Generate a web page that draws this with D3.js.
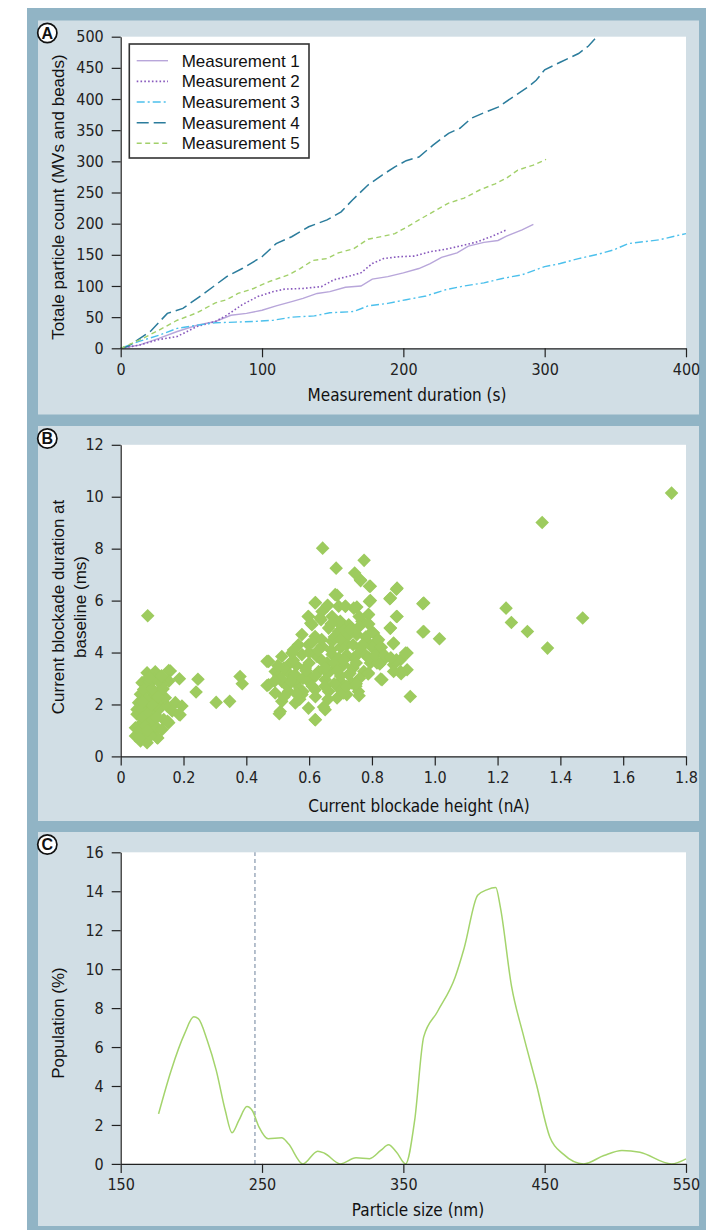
<!DOCTYPE html>
<html>
<head>
<meta charset="utf-8">
<script src="https://cdn.jsdelivr.net/npm/d3@7"></script>
<style>
  html, body { margin: 0; padding: 0; background: #ffffff; }
  svg { display: block; }
  .tick text { font-family: "DejaVu Sans Condensed", "DejaVu Sans", sans-serif; font-stretch: condensed; font-size: 16px; fill: #222; }
  .axis path, .axis line { stroke: #222; stroke-width: 1.2; }
  .xtitle { font-family: "DejaVu Sans Condensed", "DejaVu Sans", sans-serif; font-stretch: condensed; font-size: 17px; fill: #111; }
  .ytitle { font-family: "Liberation Sans", Arial, sans-serif; font-size: 17px; fill: #111; }
  .legend text { font-family: "Liberation Sans", Arial, sans-serif; font-size: 17px; fill: #111; }
  .tag text { font-family: "Liberation Sans", Arial, sans-serif; font-weight: bold; font-size: 16px; fill: #111; }
</style>
</head>
<body>
<svg id="fig" width="706" height="1230"></svg>
<script>
// ---- Panel A: cumulative particle counts, [time (s), count] ----
const seriesNames = ["Measurement 1", "Measurement 2", "Measurement 3", "Measurement 4", "Measurement 5"];
const measurement1 = [[0,0],[13,5],[27,16],[40,27],[54,37],[67,43],[78,53],[89,56],[100,61],[110,68],[121,75],[129,80],[139,88],[148,91],[159,98],[170,100],[178,111],[189,115],[200,121],[211,128],[219,136],[227,146],[238,153],[246,164],[257,170],[267,173],[273,180],[284,190],[292,199]];
const measurement2 = [[0,0],[13,5],[27,14],[40,19],[54,35],[67,43],[75,53],[86,70],[97,83],[108,91],[116,95],[129,96],[142,99],[151,110],[162,116],[170,121],[178,136],[186,144],[197,147],[208,148],[219,155],[230,159],[240,164],[251,170],[262,179],[273,190]];
const measurement3 = [[0,0],[13,11],[27,21],[40,32],[54,37],[67,41],[81,42],[94,43],[108,45],[121,50],[137,52],[148,57],[165,59],[175,68],[189,72],[202,78],[216,84],[230,94],[243,100],[257,105],[270,112],[284,118],[300,131],[311,136],[324,144],[338,151],[349,158],[359,168],[370,171],[381,174],[392,180],[400,184]];
const measurement4 = [[0,0],[5,3],[21,27],[33,56],[44,64],[59,88],[75,115],[86,128],[100,147],[110,168],[121,179],[133,195],[146,206],[156,219],[164,238],[175,262],[185,278],[194,291],[202,301],[211,307],[221,326],[232,345],[240,353],[248,369],[257,378],[267,387],[278,404],[288,419],[294,430],[300,447],[311,459],[324,473],[331,485],[337,500]];
const measurement5 = [[0,0],[13,13],[27,29],[40,45],[54,57],[67,73],[75,78],[83,88],[94,96],[105,107],[119,118],[127,128],[136,141],[146,144],[154,153],[165,160],[175,175],[186,180],[194,184],[202,194],[211,206],[221,219],[232,233],[243,241],[254,254],[265,264],[273,273],[281,286],[292,294],[301,303]];
const durationTicks = [0, 100, 200, 300, 400];
const countTicks = [0, 50, 100, 150, 200, 250, 300, 350, 400, 450, 500];

// ---- Panel B: blockade events, [height (nA), duration (ms)] ----
const blockadeEvents = [
  [0.086,5.42],
  [0.084,3.22],[0.110,3.26],[0.158,3.29],[0.153,3.31],[0.187,2.99],[0.246,2.97],[0.240,2.48],[0.153,2.90],[0.132,2.77],
  [0.068,2.84],[0.089,2.58],[0.121,2.52],[0.063,2.39],[0.100,2.26],[0.057,2.07],[0.084,1.94],[0.126,2.13],[0.148,1.94],
  [0.174,2.07],[0.195,1.94],[0.185,1.62],[0.189,1.60],[0.164,1.75],[0.153,1.30],[0.149,1.35],[0.137,1.42],[0.110,1.62],
  [0.078,1.62],[0.052,1.62],[0.068,1.30],[0.094,1.23],[0.047,1.10],[0.073,0.98],[0.105,0.98],[0.047,0.79],[0.063,0.59],
  [0.084,0.53],[0.116,0.72],[0.118,0.71],[0.078,0.79],[0.110,1.17],[0.132,1.04],[0.121,1.81],[0.142,2.26],[0.105,2.97],
  [0.089,2.84],[0.073,2.58],[0.052,1.81],[0.068,1.81],[0.089,1.42],[0.105,1.94],[0.110,2.32],
  [0.060,1.00],[0.070,1.50],[0.080,1.20],[0.090,1.70],[0.100,2.00],[0.080,2.20],[0.100,2.60],[0.120,2.90],[0.095,0.80],
  [0.060,0.70],[0.100,1.40],[0.120,2.30],[0.135,2.60],[0.070,2.10],[0.115,1.50],[0.090,3.05],[0.130,3.10],[0.085,1.00],
  [0.304,2.08],[0.347,2.12],[0.380,3.08],[0.387,2.80],
  [0.683,6.23],[0.619,5.91],[0.657,5.78],[0.694,5.78],[0.598,5.39],[0.635,5.33],[0.699,5.20],[0.662,4.94],[0.577,4.69],
  [0.619,4.62],[0.673,4.43],[0.598,4.30],[0.641,4.24],[0.705,4.24],[0.577,3.92],[0.625,3.85],[0.673,3.92],[0.471,3.66],
  [0.513,3.85],[0.540,3.60],[0.492,3.27],[0.534,3.21],[0.588,3.40],[0.630,3.27],[0.683,3.40],[0.471,2.76],[0.513,2.89],
  [0.556,2.83],[0.598,2.89],[0.651,2.95],[0.699,2.89],[0.492,2.44],[0.534,2.50],[0.577,2.38],[0.619,2.57],[0.662,2.50],
  [0.513,2.12],[0.556,2.06],[0.598,1.86],[0.508,1.73],[0.619,1.41],[0.651,1.80],[0.689,2.25],[0.545,3.98],[0.566,4.30],
  [0.609,5.07],[0.641,5.58],[0.673,5.39],[0.694,4.81],[0.503,3.10],[0.555,3.15],[0.600,3.10],[0.657,3.60],[0.694,3.79],
  [0.763,6.80],[0.795,6.55],[0.880,6.48],[0.859,6.10],[0.965,5.91],[0.795,6.00],[0.742,5.71],[0.715,5.78],[0.789,5.46],
  [0.768,5.20],[0.880,5.39],[0.859,4.94],[0.965,4.81],[0.726,5.07],[0.710,4.88],[0.805,4.75],[0.752,4.69],[0.784,4.43],
  [0.816,4.43],[0.869,4.37],[0.720,4.30],[0.763,4.17],[0.816,4.04],[0.912,3.98],[0.891,3.72],[0.869,3.53],[0.832,3.66],
  [0.795,3.60],[0.742,3.79],[0.710,3.53],[0.774,3.27],[0.891,3.27],[0.816,3.60],[0.726,3.15],[0.789,3.21],[0.869,3.27],
  [0.912,3.34],[0.832,2.95],[0.736,2.83],[0.757,2.50],[0.699,2.57],[0.720,2.38],[0.922,2.31],
  [1.754,10.14],[1.342,9.01],[1.227,5.71],[1.244,5.16],[1.295,4.81],[1.359,4.17],[1.471,5.33],[1.015,4.53],[0.962,5.88],
  [0.962,4.79],[0.643,8.02],[0.775,7.55],[0.686,7.25],[0.745,7.06],[0.764,6.77],[0.792,6.55],[0.878,6.44],[0.689,6.20],
  [0.857,6.07],[0.792,5.97],[0.620,5.93],[0.659,5.82],[0.716,5.78],[0.752,5.75],
  [0.466,3.66],[0.466,2.73],[0.505,1.64],[0.620,1.41],[0.646,1.90],[0.788,3.17],[0.749,2.70],[0.759,2.34],[0.710,2.44],
  [0.828,2.98],[0.821,4.49],[0.825,3.56],[0.878,3.72],[0.893,3.18],[0.907,3.98],[0.868,4.34],[0.878,5.39],[0.858,4.94],
  [0.789,5.46],[0.759,5.39],[0.692,5.16],[0.638,5.26],[0.605,5.13],[0.597,5.39],
  [0.52,3.40],[0.56,3.50],[0.60,3.60],[0.64,3.70],[0.68,3.60],[0.72,3.90],[0.76,4.00],[0.53,2.70],[0.57,2.60],[0.61,2.70],
  [0.65,2.70],[0.70,3.10],[0.74,3.40],[0.78,3.90],[0.80,4.20],[0.83,4.20],[0.60,4.00],[0.64,4.50],[0.68,4.60],[0.72,4.60],
  [0.58,3.00],[0.62,3.10],[0.50,3.50],[0.52,2.30],[0.57,2.20],[0.66,2.20],[0.55,4.10],[0.61,4.40],[0.67,4.10],[0.75,3.60],
  [0.78,4.60],[0.80,4.80],[0.70,4.20],[0.73,3.20],[0.76,3.00],
  [0.54,2.90],[0.58,2.50],[0.62,2.30],[0.66,3.20],[0.69,3.30],[0.71,3.70],[0.74,4.30],[0.77,4.30],[0.79,3.80],[0.81,3.90],
  [0.84,3.90],[0.86,3.80],[0.63,4.10],[0.59,3.30],[0.55,3.70],[0.51,3.00],[0.49,2.90],[0.56,2.40],[0.65,3.40],[0.68,2.80],
  [0.72,2.70],[0.75,2.80],[0.70,4.50],[0.73,4.90],[0.76,5.00],[0.67,5.10],[0.79,5.10]
];
const heightTicks = [0, 0.2, 0.4, 0.6, 0.8, 1.0, 1.2, 1.4, 1.6, 1.8];
const blockDurTicks = [0, 2, 4, 6, 8, 10, 12];

// ---- Panel C: size distribution ----
const particleSize = [176.8,185.7,195.3,201.7,204.9,211.2,217.6,224,228.8,233.6,239.3,243.1,247.9,254.3,263.9,268.7,278.9,289.4,294.2,305.3,316.5,326.1,334,339.5,345.2,351.6,358,364.4,374,386.7,393.1,402.6,409,415.4,418.6,426.6,434.6,444.1,453.7,463.2,477.6,491.9,504.7,517.4,539.8,550];
const population = [2.57,4.8,6.7,7.55,7.46,6.35,4.8,2.74,1.6,2.23,2.95,2.74,1.89,1.29,1.34,1.03,0,0.65,0.55,0,0.31,0.27,0.69,0.98,0.6,0,2.23,6.52,7.8,9.6,11.1,13.8,14.07,14.19,13.2,9.1,6.7,4.1,1.37,0.5,0,0.43,0.69,0.6,0,0.26];
const sizeCutoff = 245;
const sizeTicks = [150, 250, 350, 450, 550];
const populationTicks = [0, 2, 4, 6, 8, 10, 12, 14, 16];

// ---- layout ----
const svg = d3.select("#fig");
const frameColor = "#91b4c5", panelColor = "#d1dee5";
const plotLeft = 120.7, plotRight = 686, plotH = 311.6;
const panels = [
  { top: 20.5, bottom: 414.5, plotTop: 36.7, tag: "A" },
  { top: 426, bottom: 821, plotTop: 444.8, tag: "B" },
  { top: 832, bottom: 1226, plotTop: 852.3, tag: "C" }
];

svg.append("rect").attr("x", 27).attr("y", 8).attr("width", 679).attr("height", 1222).attr("fill", frameColor);
panels.forEach(p => {
  svg.append("rect").attr("x", 38).attr("y", p.top).attr("width", 661).attr("height", p.bottom - p.top).attr("fill", panelColor);
  svg.append("rect").attr("x", plotLeft).attr("y", p.plotTop).attr("width", plotRight - plotLeft).attr("height", plotH).attr("fill", "#ffffff");
  const tg = svg.append("g").attr("class", "tag").attr("transform", `translate(47.3,${p.top + 12.5})`);
  tg.append("circle").attr("r", 9.6).attr("fill", "#ffffff").attr("stroke", "#111").attr("stroke-width", 1.7);
  tg.append("text").attr("text-anchor", "middle").attr("dy", "0.36em").text(p.tag);
});

function axes(p, x, y, xTicks, yTicks, xFmt, yFmt) {
  const bottom = p.plotTop + plotH;
  svg.append("g").attr("class", "axis").attr("transform", `translate(0,${bottom})`)
    .call(d3.axisBottom(x).tickValues(xTicks).tickFormat(xFmt).tickSize(9).tickSizeOuter(0).tickPadding(6));
  svg.append("g").attr("class", "axis").attr("transform", `translate(${plotLeft},0)`)
    .call(d3.axisLeft(y).tickValues(yTicks).tickFormat(yFmt).tickSize(9).tickSizeOuter(0).tickPadding(8));
}
function xTitle(text, cx, baseline) {
  svg.append("text").attr("class", "xtitle").attr("x", cx).attr("y", baseline).attr("text-anchor", "middle").text(text);
}
function yTitle(lines, cxs, cy) {
  lines.forEach((t, i) => {
    svg.append("text").attr("class", "ytitle").attr("text-anchor", "middle").attr("dy", "0.35em")
      .attr("transform", `translate(${cxs[i]},${cy}) rotate(-90)`).text(t);
  });
}

// ---- Panel A ----
{
  const p = panels[0];
  const x = d3.scaleLinear().domain([0, 400]).range([plotLeft, plotRight]);
  const y = d3.scaleLinear().domain([0, 500]).range([p.plotTop + plotH, p.plotTop]);
  const styles = [
    { color: "#b8a6da", dash: null, width: 1.4 },
    { color: "#8859bd", dash: "1.6,2.2", width: 1.6 },
    { color: "#4cc0ec", dash: "8,3,2,3", width: 1.4 },
    { color: "#2b7c9c", dash: "12,5", width: 1.5 },
    { color: "#a2d06a", dash: "5,3.5", width: 1.4 }
  ];
  const data = [measurement1, measurement2, measurement3, measurement4, measurement5];
  const line = d3.line().x(d => x(d[0])).y(d => y(d[1]));
  data.forEach((d, i) => {
    svg.append("path").datum(d).attr("d", line).attr("fill", "none")
      .attr("stroke", styles[i].color).attr("stroke-width", styles[i].width)
      .attr("stroke-dasharray", styles[i].dash);
  });
  axes(p, x, y, durationTicks, countTicks, d3.format("d"), d3.format("d"));
  xTitle("Measurement duration (s)", 407, 401);
  yTitle(["Totale particle count (MVs and beads)"], [57.6], 197);

  // legend
  const lg = svg.append("g").attr("class", "legend");
  lg.append("rect").attr("x", 129.3).attr("y", 44).attr("width", 179.7).attr("height", 114)
    .attr("fill", "#ffffff").attr("stroke", "#333").attr("stroke-width", 1.6);
  seriesNames.forEach((name, i) => {
    const yy = 60.7 + i * 20.65;
    lg.append("line").attr("x1", 136.7).attr("x2", 168).attr("y1", yy).attr("y2", yy)
      .attr("stroke", styles[i].color).attr("stroke-width", styles[i].width).attr("stroke-dasharray", styles[i].dash);
    lg.append("text").attr("x", 181.7).attr("y", yy).attr("dy", "0.35em").text(name);
  });
}

// ---- Panel B ----
{
  const p = panels[1];
  const x = d3.scaleLinear().domain([0, 1.8]).range([plotLeft, plotRight]);
  const y = d3.scaleLinear().domain([0, 12]).range([p.plotTop + plotH, p.plotTop]);
  const diamond = d3.symbol().type(d3.symbolSquare).size(92);
  svg.append("g").selectAll("path").data(blockadeEvents).join("path")
    .attr("d", diamond)
    .attr("transform", d => `translate(${x(d[0])},${y(d[1])}) rotate(45)`)
    .attr("fill", "#9dcb5e");
  axes(p, x, y, heightTicks, blockDurTicks, d => d === 0 ? "0" : d3.format(".1f")(d), d3.format("d"));
  xTitle("Current blockade height (nA)", 419, 812);
  yTitle(["Current blockade duration at", "baseline (ms)"], [57.6, 80], 607);
}

// ---- Panel C ----
{
  const p = panels[2];
  const x = d3.scaleLinear().domain([150, 550]).range([plotLeft, plotRight]);
  const y = d3.scaleLinear().domain([0, 16]).range([p.plotTop + plotH, p.plotTop]);
  svg.append("line").attr("x1", x(sizeCutoff)).attr("x2", x(sizeCutoff))
    .attr("y1", y(0)).attr("y2", y(16)).attr("stroke", "#7b8da5").attr("stroke-width", 1.1).attr("stroke-dasharray", "4,3");
  const pts = particleSize.map((s, i) => [s, population[i]]);
  const line = d3.line().x(d => x(d[0])).y(d => y(d[1])).curve(d3.curveMonotoneX);
  svg.append("path").datum(pts).attr("d", line).attr("fill", "none").attr("stroke", "#a4d46c").attr("stroke-width", 1.5);
  axes(p, x, y, sizeTicks, populationTicks, d3.format("d"), d3.format("d"));
  xTitle("Particle size (nm)", 418, 1216);
  yTitle(["Population (%)"], [57.6], 1023);
}
</script>
</body>
</html>
